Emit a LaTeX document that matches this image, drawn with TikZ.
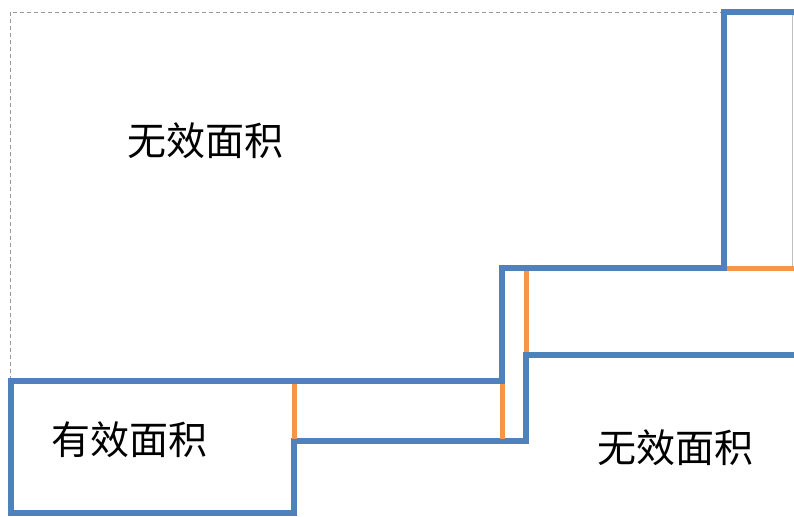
\documentclass[tikz,border=0pt]{standalone}
\usepackage{fontspec}
\newfontfamily\cjk{Noto Sans CJK SC}
\definecolor{bblue}{RGB}{79,129,189}
\definecolor{borange}{RGB}{247,150,70}
\begin{document}
\begin{tikzpicture}[x=1pt,y=-1pt,
  wall/.style={draw=bblue,line width=5.5pt,line join=miter},
  seam/.style={draw=borange,line width=5pt},
  guide/.style={draw=gray!80,line width=0.7pt,dash pattern=on 4pt off 3pt},
  lbl/.style={font=\cjk\fontsize{39}{44}\selectfont,text=black,inner sep=0pt}]
\useasboundingbox[fill=white] (0,0) rectangle (794,516);
% dashed outline of the ineffective area
\coordinate (g1) at (10,380);
\coordinate (g2) at (10,12);
\coordinate (g3) at (724,12);
\draw[guide] (g1) -- (g2) -- (g3);
% thin right edge of top box
\coordinate (r1) at (792,14);
\coordinate (r2) at (792,268);
\draw[draw=gray!50,line width=0.6pt] (r1) -- (r2);
% corner coordinates
\coordinate (a1) at (11,381);
\coordinate (a2) at (502,381);
\coordinate (a3) at (502,268);
\coordinate (a4) at (724,268);
\coordinate (a5) at (724,12);
\coordinate (a6) at (794,12);
\coordinate (b1) at (11,513);
\coordinate (b2) at (294,513);
\coordinate (b3) at (294,441);
\coordinate (b4) at (526,441);
\coordinate (b5) at (526,355);
\coordinate (b6) at (794,355);
\draw[wall] (a6) -- (a5) -- (a4) -- (a3) -- (a2) -- (a1) -- (b1) -- (b2) -- (b3) -- (b4) -- (b5) -- (b6);
% orange seams
\coordinate (s1a) at (294,384);
\coordinate (s1b) at (294,439);
\coordinate (s2a) at (502,384);
\coordinate (s2b) at (502,439);
\coordinate (s3a) at (526,271);
\coordinate (s3b) at (526,352);
\coordinate (s4a) at (727,268);
\coordinate (s4b) at (794,268);
\draw[seam] (s1a) -- (s1b);
\draw[seam] (s2a) -- (s2b);
\draw[seam] (s3a) -- (s3b);
\draw[seam] (s4a) -- (s4b);
% labels
\node[lbl] (t1) at (205,141) {无效面积};
\node[lbl] (t2) at (129,440) {有效面积};
\node[lbl] (t3) at (675,448) {无效面积};
\end{tikzpicture}
\end{document}
